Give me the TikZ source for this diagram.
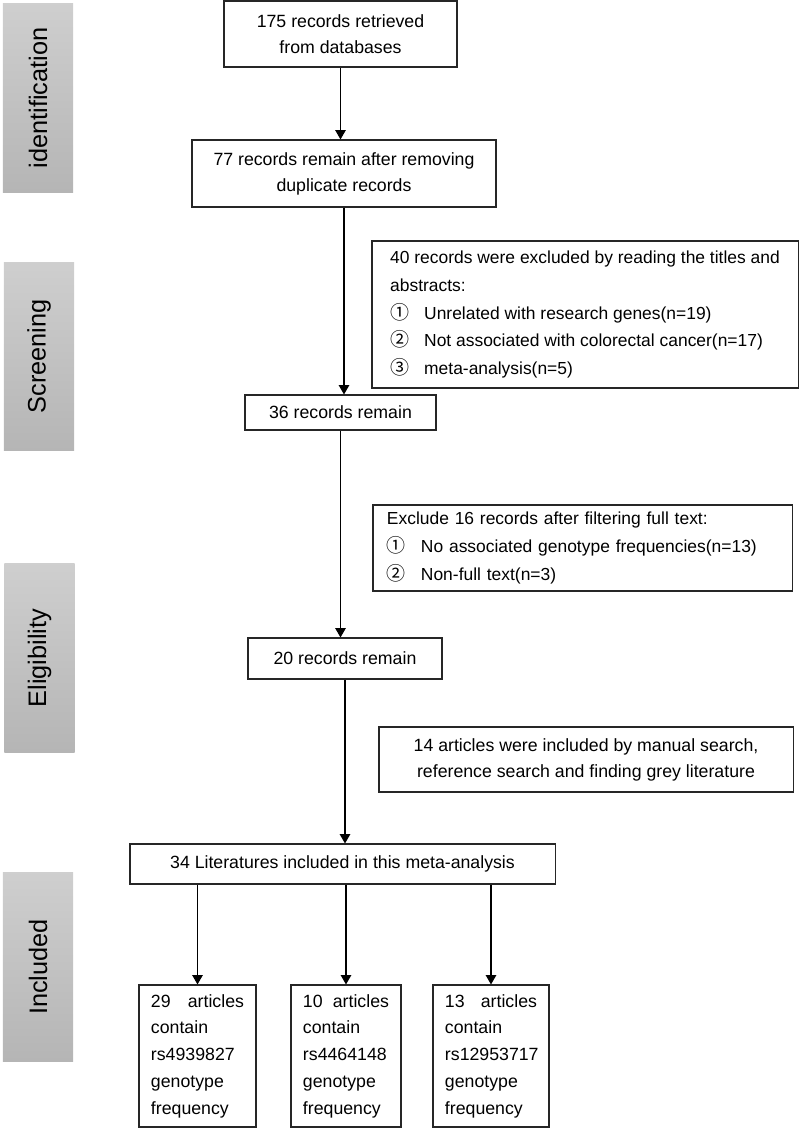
\documentclass[tikz,border=0pt]{standalone}
\usepackage{fontspec}
\setmainfont{Liberation Sans}
\newfontfamily\cjk{Noto Sans CJK SC}
\newfontfamily\sidefont{Liberation Sans}
\usetikzlibrary{arrows}

% circled item for the exclusion boxes
\newcommand{\itm}[2]{\makebox[0.85cm][l]{\cjk\fontsize{13.5}{13.5}\selectfont #1}#2}

\begin{document}
\begin{tikzpicture}[x=0.025cm,y=-0.025cm,
    box/.style={draw=black!85,line width=0.8pt,inner sep=0pt,align=center,
      font=\fontsize{12.6}{18.5}\selectfont},
    exbox/.style={box,align=left,
      font=\fontsize{12.4}{19.8}\selectfont},
    outbox/.style={box,align=left,inner xsep=0.3cm,minimum width=0cm,
      minimum height=3.55cm,font=\fontsize{12.6}{19}\selectfont},
    phase/.style={top color=black!19,bottom color=black!29,draw=none,
      minimum width=4.7cm,minimum height=1.75cm,rotate=90,
      font=\sidefont\fontsize{18}{20}\selectfont},
    arr/.style={-triangle 60,line width=0.8pt}]
  \useasboundingbox (0,0) rectangle (800,1129);
  \clip (0,0) rectangle (800,1129);

  % phase bars on the left
  \node[phase] (ident) at (38,98) {identification};
  \node[phase] (screen) at (39,356.5) {Screening};
  \node[phase] (elig) at (39.5,658) {Eligibility};
  \node[phase] (incl) at (38,967) {Included};

  % main column
  \node[box,minimum width=5.825cm,minimum height=1.65cm] (rec175) at (340.5,34)
    {175 records retrieved\\from databases};
  \node[box,minimum width=7.6cm,minimum height=1.675cm] (rec77) at (344,173.5)
    {77 records remain after removing\\duplicate records};
  \node[box,minimum width=4.775cm,minimum height=0.875cm] (rec36) at (340.5,412.5)
    {36 records remain};
  \node[box,minimum width=4.85cm,minimum height=1.025cm] (rec20) at (345,658.5)
    {20 records remain};
  \node[box,minimum width=10.625cm,minimum height=1cm] (lit34) at (342.5,864)
    {34 Literatures included in this meta-analysis};

  % side boxes
  \node[exbox,minimum width=10.65cm,minimum height=3.675cm] (excl40) at (585,314.5)
    {40 records were excluded by reading the titles and\\abstracts:\\
     \itm{①}{Unrelated with research genes(n=19)}\\
     \itm{②}{Not associated with colorectal cancer(n=17)}\\
     \itm{③}{meta-analysis(n=5)}};
  \node[exbox,inner xsep=0.35cm,text width=9.775cm,minimum height=2.15cm] (excl16) at (582.5,548)
    {Exclude 16 records after filtering full text:\\
     \itm{①}{No associated genotype frequencies(n=13)}\\
     \itm{②}{Non-full text(n=3)}};
  \node[box,minimum width=10.35cm,minimum height=1.625cm] (add14) at (586,759.5)
    {14 articles were included by manual search,\\reference search and finding grey literature};

  % bottom boxes
  \node[outbox,text width=2.325cm] (snp1) at (197.5,1056)
    {29\hfill articles\\contain\\rs4939827\\genotype\\frequency};
  \node[outbox,text width=2.15cm] (snp2) at (346,1056)
    {10\hfill articles\\contain\\rs4464148\\genotype\\frequency};
  \node[outbox,text width=2.3cm] (snp3) at (491,1056)
    {13\hfill articles\\contain\\rs12953717\\genotype\\frequency};

  % arrows
  \draw[arr] (rec175.south) -- (rec175.south |- rec77.north);
  \draw[arr] (rec77.south) -- (rec77.south |- rec36.north);
  \draw[arr] (rec36.south) -- (rec36.south |- rec20.north);
  \draw[arr] (rec20.south) -- (rec20.south |- lit34.north);
  \draw[arr] (snp1.north |- lit34.south) -- (snp1.north);
  \draw[arr] (snp2.north |- lit34.south) -- (snp2.north);
  \draw[arr] (snp3.north |- lit34.south) -- (snp3.north);
\end{tikzpicture}
\end{document}
